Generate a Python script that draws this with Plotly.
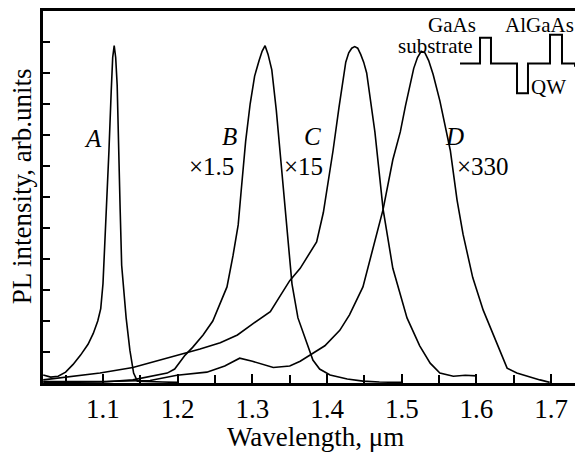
import plotly.graph_objects as go

# Wavelength (um) and PL intensity (arb. units, scaled)
lam_A = [1.020, 1.030, 1.040, 1.050, 1.060, 1.070, 1.080, 1.087, 1.093, 1.097, 1.100, 1.104, 1.108,
         1.111, 1.113, 1.115, 1.117, 1.119, 1.121, 1.123, 1.125, 1.128, 1.131, 1.136, 1.141, 1.146,
         1.160, 1.180, 1.200]
int_A = [0.26, 0.19, 0.22, 0.35, 0.60, 0.90, 1.25, 1.60, 2.00, 2.40, 3.20, 5.20, 7.50,
         9.40, 10.50, 10.88, 10.50, 9.60, 8.00, 5.60, 3.80, 2.80, 2.10, 1.06, 0.32, 0.06,
         0.04, 0.03, 0.02]

lam_B = [1.020, 1.100, 1.140, 1.163, 1.186, 1.196, 1.203, 1.210, 1.220, 1.234, 1.247, 1.257, 1.266,
         1.274, 1.281, 1.285, 1.291, 1.297, 1.303, 1.309, 1.313, 1.317, 1.321, 1.326, 1.332,
         1.338, 1.344, 1.353, 1.361, 1.373, 1.381, 1.390, 1.404, 1.427, 1.448, 1.470, 1.500]
int_B = [0.02, 0.03, 0.10, 0.20, 0.32, 0.45, 0.67, 0.90, 1.15, 1.55, 2.00, 2.60, 3.10,
         4.10, 5.10, 6.20, 7.80, 9.00, 9.90, 10.40, 10.70, 10.88, 10.60, 10.10, 8.80,
         7.20, 5.50, 3.20, 2.10, 1.28, 0.74, 0.45, 0.26, 0.13, 0.06, 0.03, 0.02]

lam_C = [1.020, 1.056, 1.096, 1.140, 1.186, 1.210, 1.230, 1.257, 1.280, 1.300, 1.324, 1.337, 1.350,
         1.364, 1.377, 1.386, 1.395, 1.408, 1.416, 1.421, 1.425, 1.429, 1.433, 1.437, 1.441,
         1.445, 1.449, 1.453, 1.458, 1.464, 1.475, 1.488, 1.507, 1.524, 1.538, 1.551, 1.569,
         1.585, 1.600]
int_C = [0.10, 0.20, 0.32, 0.50, 0.80, 0.95, 1.10, 1.30, 1.55, 1.90, 2.30, 2.80, 3.30,
         3.70, 4.20, 4.55, 5.50, 7.50, 8.90, 9.80, 10.35, 10.65, 10.80, 10.85, 10.80,
         10.60, 10.35, 10.00, 9.20, 8.10, 5.60, 3.70, 2.10, 1.20, 0.64, 0.32, 0.22,
         0.25, 0.23]

lam_D = [1.020, 1.100, 1.163, 1.199, 1.239, 1.263, 1.283, 1.300, 1.328, 1.350, 1.364, 1.377, 1.397,
         1.417, 1.430, 1.448, 1.461, 1.475, 1.488, 1.498, 1.505, 1.511, 1.516, 1.521, 1.526,
         1.531, 1.536, 1.542, 1.551, 1.565, 1.574, 1.582, 1.595, 1.609, 1.627, 1.641, 1.654,
         1.671, 1.685, 1.698]
int_D = [0.05, 0.05, 0.08, 0.25, 0.35, 0.55, 0.80, 0.70, 0.50, 0.55, 0.70, 0.90, 1.20,
         1.70, 2.20, 3.10, 4.30, 5.60, 7.20, 8.10, 8.95, 9.60, 10.15, 10.50, 10.70,
         10.65, 10.40, 9.95, 9.10, 7.50, 5.90, 4.80, 3.40, 2.35, 1.28, 0.48, 0.32,
         0.19, 0.10, 0.02]

x_ticks = [1.1, 1.2, 1.3, 1.4, 1.5, 1.6, 1.7]
x_tick_labels = ["1.1", "1.2", "1.3", "1.4", "1.5", "1.6", "1.7"]
y_ticks = [1, 2, 3, 4, 5, 6, 7, 8, 9, 10, 11]

FONT = "Liberation Serif, Times New Roman, serif"
LINE = dict(color="black", width=1.6)

fig = go.Figure()
for lx, ly in [(lam_A, int_A), (lam_B, int_B), (lam_C, int_C), (lam_D, int_D)]:
    fig.add_trace(go.Scatter(x=lx, y=ly, mode="lines", line=LINE, showlegend=False,
                             hoverinfo="skip"))
# invisible trace to anchor the right-hand tick axis
fig.add_trace(go.Scatter(x=[1.3], y=[1], yaxis="y2", mode="markers",
                         marker=dict(opacity=0), showlegend=False, hoverinfo="skip"))

fig.update_layout(
    width=575, height=448,
    margin=dict(l=35, r=0, t=1, b=73),
    paper_bgcolor="white", plot_bgcolor="white",
    font=dict(family=FONT, size=27, color="black"),
    xaxis=dict(range=[1.0197, 1.7426], tickvals=x_ticks, ticktext=x_tick_labels,
               ticks="inside", ticklen=9, tickwidth=1.5, tickcolor="black",
               minor=dict(dtick=0.05, tick0=1.0, ticks="inside", ticklen=8, tickwidth=1.5,
                          tickcolor="black"),
               showline=True, linewidth=2.5, linecolor="black", mirror=True,
               showgrid=False, zeroline=False,
               tickfont=dict(family=FONT, size=27)),
    yaxis=dict(range=[0, 12], tickvals=y_ticks, showticklabels=False,
               ticks="inside", ticklen=7, tickwidth=1.5, tickcolor="black",
               showline=True, linewidth=2.5, linecolor="black",
               showgrid=False, zeroline=False),
    yaxis2=dict(range=[0, 12], tickvals=y_ticks, showticklabels=False, overlaying="y",
                side="right", ticks="inside", ticklen=7, tickwidth=1.5, tickcolor="black",
                showline=False, showgrid=False, zeroline=False),
)

ann = [
    dict(text="Wavelength, μm", x=0.504, y=-0.144, xref="paper", yref="paper", size=27),
    dict(text="PL intensity, arb.units", x=-0.040, y=0.53, xref="paper", yref="paper",
         textangle=-90, size=27),
    dict(text="<i>A</i>", x=1.087, y=7.9, size=25),
    dict(text="<i>B</i>", x=1.270, y=7.95, size=25),
    dict(text="×1.5", x=1.245, y=7.0, size=25),
    dict(text="<i>C</i>", x=1.381, y=7.95, size=25),
    dict(text="×15", x=1.369, y=7.0, size=25),
    dict(text="<i>D</i>", x=1.571, y=7.95, size=25),
    dict(text="×330", x=1.609, y=7.0, size=25),
    dict(text="GaAs", x=0.757, y=0.962, xref="paper", yref="paper", size=21),
    dict(text="substrate", x=0.727, y=0.906, xref="paper", yref="paper", size=21),
    dict(text="AlGaAs", x=0.920, y=0.962, xref="paper", yref="paper", size=21),
    dict(text="QW", x=0.936, y=0.795, xref="paper", yref="paper", size=21),
]
for a in ann:
    size = a.pop("size")
    a.setdefault("xref", "x")
    a.setdefault("yref", "y")
    a["xanchor"] = "center"
    a["yanchor"] = "middle"
    a["showarrow"] = False
    a["font"] = dict(family=FONT, size=size, color="black")
    fig.add_annotation(**a)

# band-structure schematic inset (decoration, paper coordinates)
px = [0.7722, 0.8093, 0.8093, 0.8296, 0.8296, 0.8778, 0.8778, 0.8981, 0.8981,
      0.9389, 0.9389, 0.9611, 0.9611, 0.9852, 0.9852]
py = [0.8587, 0.8587, 0.928, 0.928, 0.8587, 0.8587, 0.7787, 0.7787, 0.8587,
      0.8587, 0.936, 0.936, 0.8587, 0.8587, 0.850]
path = "M " + " L ".join(f"{a},{b}" for a, b in zip(px, py))
fig.add_shape(type="path", path=path, xref="paper", yref="paper",
              line=dict(color="black", width=2))

fig.write_html("out.html")
